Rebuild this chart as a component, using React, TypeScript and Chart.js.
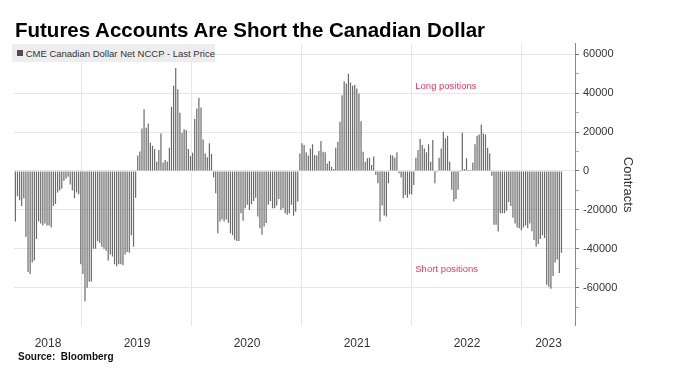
import { useEffect, useRef } from 'react';
import { Chart, registerables } from 'chart.js';

Chart.register(...registerables);

// ---- data (weekly, first week dated 2018-05-25) ----
const startDateUTC = Date.UTC(2018, 4, 25);
const WEEK_MS = 7 * 24 * 3600 * 1000;

const weeks2018 = [
  -26000, -13000, -15000, -18000, -14000, -34000, -52000, -53000, -47000, -46000,
  -35000, -26000, -27000, -28000, -27000, -28000, -28000, -29000, -18000, -17000,
  -11000, -10000, -9000, -5000, -4000, -3000, -7000, -10000, -14000, -11000,
  -12000, -48000,
];
const weeks2019 = [
  -53000, -67000, -60000, -57000, -57000, -40000, -40000, -36000, -37000, -39000,
  -40000, -41000, -46000, -43000, -44000, -48000, -49000, -48000, -48000, -48500,
  -43000, -41700, -42000, -33000, -39000, -13700, 7900, 10000, 21900, 31800,
  22200, 24400, 14500, 13000, 11300, 4800, 10800, 19300, 4400, 5600,
  4800, 12000, 33000, 43800, 53000, 42000, 30000, 19700, 21400, 21000,
  11300, 7700,
];
const weeks2020 = [
  9400, 26700, 32100, 37600, 32600, 16200, 9000, 7000, 14200, 8700,
  -3400, -11500, -32000, -26000, -25000, -26000, -25000, -26800, -32000, -33000,
  -35400, -36000, -36000, -21700, -25600, -19100, -17400, -20000, -17100, -15400,
  -13700, -23400, -29400, -32800, -28500, -26800, -17400, -15400, -19100, -19100,
  -17800, -14400, -20000, -19100, -21700, -22500, -21700, -17400, -23000, -20900,
  -15700, 9000,
];
const weeks2021 = [
  14200, 13300, 9600, 7900, 11600, 13800, 8200, 7900, 10300, 15400,
  9900, 9600, 3900, 5100, 2200, 1000, 12000, 15000, 25300, 39000,
  46200, 45000, 50000, 45500, 43800, 44400, 42400, 39800, 25600, 9900,
  4800, 6500, 6800, 3100, 7400, -2000, -6300, -26000, -17800, -22900,
  -23400, -6300, 8200, 7900, 6800, 9600, -1200, -3400, -14000, -12300,
  -13700, -12000,
];
const weeks2022 = [
  -12000, -7200, 6800, 10800, 16400, 13300, 11600, 9600, 13700, 4800,
  15900, -6300, -700, 6800, 11600, 20200, 16800, 18100, 4800, -9700,
  -15700, -14400, -9700, -500, 19800, 1000, 6500, 500, 500, 4300,
  13700, 18100, 18800, 23900, 19300, 18800, 12000, 9000, -2400, -27700,
  -27700, -31100, -21700, -21700, -21700, -20500, -16000, -18000, -24000, -27000,
  -29000, -29500,
];
const weeks2023 = [
  -30500, -29000, -28000, -29500, -27000, -31000, -35500, -38800, -37500, -35000,
  -33000, -34500, -58500, -59500, -60500, -54000, -47000, -45500, -52500, -42000,
];

const seriesName = 'CME Canadian Dollar Net NCCP - Last Price';
const titleText = 'Futures Accounts Are Short the Canadian Dollar';
const sourceText = 'Source:  Bloomberg';
const yAxisTitle = 'Contracts';
const yearBoundaries = [2019, 2020, 2021, 2022, 2023];
const yMajorTicks = [60000, 40000, 20000, 0, -20000, -40000, -60000];
const yMinorTicks = [50000, 30000, 10000, -10000, -30000, -50000, -70000];
const notes = [
  { text: 'Long positions', x: 2022.03, y: 43700 },
  { text: 'Short positions', x: 2022.03, y: -50400 },
];

const X_MIN = 2018.382;
const X_MAX = 2023.482;
const Y_MIN = -79500;
const Y_MAX = 65500;

const FONT = "'Liberation Sans', Arial, Helvetica, sans-serif";

function toDecimalYear(ms: number): number {
  const d = new Date(ms);
  const y = d.getUTCFullYear();
  const s = Date.UTC(y, 0, 1);
  const e = Date.UTC(y + 1, 0, 1);
  return y + (ms - s) / (e - s);
}

export default function App() {
  const canvasRef = useRef<HTMLCanvasElement>(null);

  useEffect(() => {
    const values = [...weeks2018, ...weeks2019, ...weeks2020, ...weeks2021, ...weeks2022, ...weeks2023];
    const points = values.map((v, i) => ({ x: toDecimalYear(startDateUTC + i * WEEK_MS), y: v }));

    const notesPlugin = {
      id: 'notes',
      afterDatasetsDraw(chart: any) {
        const { ctx, scales } = chart;
        ctx.save();
        ctx.fillStyle = '#e8365d';
        ctx.font = `9.5px ${FONT}`;
        ctx.textBaseline = 'middle';
        ctx.textAlign = 'left';
        notes.forEach((n) => {
          ctx.fillText(n.text, scales.x.getPixelForValue(n.x), scales.y.getPixelForValue(n.y));
        });
        ctx.restore();
      },
    };

    Chart.defaults.font.family = FONT;
    const chart = new Chart(canvasRef.current as HTMLCanvasElement, {
      type: 'bar',
      data: {
        datasets: [
          {
            label: seriesName,
            data: points as any,
            backgroundColor: '#6a6a6a',
            borderWidth: 0,
            barThickness: 1.2,
            inflateAmount: 0,
            xAxisID: 'x',
            yAxisID: 'y',
          } as any,
        ],
      },
      options: {
        animation: false,
        responsive: false,
        devicePixelRatio: 1,
        layout: { padding: { left: 14, top: 43.6, right: 40, bottom: 0 } },
        plugins: { legend: { display: false }, tooltip: { enabled: false } },
        scales: {
          x: {
            type: 'linear',
            position: 'bottom',
            min: X_MIN,
            max: X_MAX,
            offset: false,
            afterBuildTicks: (s: any) => {
              s.ticks = yearBoundaries.map((v) => ({ value: v }));
            },
            afterFit: (s: any) => {
              s.height = 0;
            },
            ticks: { display: false },
            grid: { color: '#e6e6e6', drawTicks: false, offset: false, lineWidth: 1 },
            border: { display: false },
          },
          x2: {
            type: 'linear',
            position: 'bottom',
            min: X_MIN,
            max: X_MAX,
            offset: false,
            afterBuildTicks: (s: any) => {
              const edges = [X_MIN, ...yearBoundaries, X_MAX];
              const mids: { value: number }[] = [];
              for (let i = 0; i < edges.length - 1; i++) mids.push({ value: (edges[i] + edges[i + 1]) / 2 });
              s.ticks = mids;
            },
            afterFit: (s: any) => {
              s.height = 51.4;
            },
            ticks: {
              autoSkip: false,
              maxRotation: 0,
              padding: 11,
              color: '#333',
              font: { size: 12 },
              callback: (v: any) => String(Math.floor(Number(v))),
            },
            grid: { display: false, drawTicks: false, offset: false },
            border: { display: false },
          },
          y: {
            type: 'linear',
            position: 'right',
            min: Y_MIN,
            max: Y_MAX,
            afterBuildTicks: (s: any) => {
              s.ticks = [...yMajorTicks, ...yMinorTicks].sort((a, b) => a - b).map((v) => ({ value: v }));
            },
            afterTickToLabelConversion: (s: any) => {
              s.ticks.forEach((t: any) => {
                t.label = yMajorTicks.includes(t.value) ? String(t.value) : '';
              });
            },
            afterFit: (s: any) => {
              s.width = 60;
            },
            ticks: {
              autoSkip: false,
              padding: 4,
              color: '#333',
              font: { size: 11 },
            },
            grid: {
              color: (c: any) => (c.tick && yMajorTicks.includes(c.tick.value) ? '#e6e6e6' : 'rgba(0,0,0,0)'),
              tickColor: (c: any) => (c.tick && yMajorTicks.includes(c.tick.value) ? '#777' : '#aaa'),
              tickLength: 4,
              drawTicks: true,
            },
            border: { display: true, color: '#888', width: 1 },
            title: { display: true, text: yAxisTitle, color: '#333', font: { size: 13 }, padding: 0 },
          },
        },
      } as any,
      plugins: [notesPlugin],
    });
    return () => chart.destroy();
  }, []);

  return (
    <div style={{ position: 'fixed', left: 0, top: 0, width: 675, height: 377, background: '#fff', fontFamily: FONT }}>
      <canvas ref={canvasRef} width={675} height={377} style={{ position: 'absolute', left: 0, top: 0, width: 675, height: 377 }} />
      <div style={{ position: 'absolute', left: 15, top: 18, fontSize: 20.5, lineHeight: '24px', fontWeight: 'bold', color: '#000', whiteSpace: 'nowrap' }}>
        {titleText}
      </div>
      <div style={{ position: 'absolute', left: 12, top: 44, width: 203, height: 18, background: '#ededed', display: 'flex', alignItems: 'center', whiteSpace: 'nowrap' }}>
        <span style={{ display: 'inline-block', width: 6, height: 6, background: '#4d4d4d', marginLeft: 5, marginRight: 3 }} />
        <span style={{ fontSize: 9.5, color: '#333' }}>{seriesName}</span>
      </div>
      <div style={{ position: 'absolute', left: 18, top: 351, fontSize: 10, lineHeight: '12px', fontWeight: 'bold', color: '#111', whiteSpace: 'pre' }}>
        {sourceText}
      </div>
    </div>
  );
}
